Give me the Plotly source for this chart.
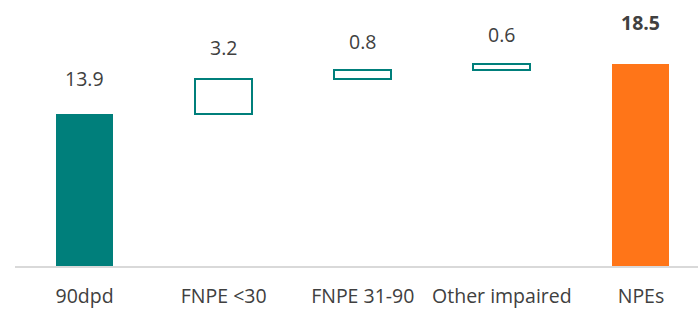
import plotly.graph_objects as go

categories = ["90dpd", "FNPE <30", "FNPE 31-90", "Other impaired", "NPEs"]
values = [13.9, 3.2, 0.8, 0.6, 18.5]
kinds = ["total", "delta", "delta", "delta", "total"]
labels = ["13.9", "3.2", "0.8", "0.6", "<b>18.5</b>"]

# presentational: pixel lift of each value label centre above its bar top
label_lift = [35.5, 31.5, 28.5, 29.5, 41.5]

TEAL = "#007F7B"
ORANGE = "#FF7518"
TEXT = "#404040"

bases, tops = [], []
running = 0.0
for v, k in zip(values, kinds):
    if k == "total":
        bases.append(0.0)
        running = v
        tops.append(v)
    else:
        bases.append(running)
        running += v
        tops.append(running)

fills, lines, lwidths = [], [], []
for i, k in enumerate(kinds):
    if k == "total":
        c = ORANGE if i == len(kinds) - 1 else TEAL
        fills.append(c)
        lines.append(c)
        lwidths.append(0)
    else:
        fills.append("white")
        lines.append(TEAL)
        lwidths.append(2)

fig = go.Figure()
fig.add_trace(go.Bar(
    x=categories,
    y=[t - b for t, b in zip(tops, bases)],
    base=bases,
    width=0.41,
    marker=dict(color=fills, line=dict(color=lines, width=lwidths)),
    hoverinfo="skip",
))

for c, t, lab, lift in zip(categories, tops, labels, label_lift):
    fig.add_annotation(x=c, y=t, text=lab, showarrow=False, yanchor="middle",
                       yshift=lift, font=dict(size=19.5, color=TEXT))

fig.update_layout(
    width=698, height=309,
    margin=dict(l=15, r=0, t=0, b=43),
    paper_bgcolor="white", plot_bgcolor="white",
    font=dict(family="Open Sans", size=20, color=TEXT),
    showlegend=False,
    bargap=0,
)
fig.update_xaxes(
    type="category", range=[-0.5, 4.41],
    showline=True, linecolor="#D9D9D9", linewidth=2,
    showgrid=False, ticks="", ticklabelstandoff=12,
    tickfont=dict(size=19.5, color=TEXT), automargin=False,
)
fig.update_yaxes(range=[0, 24.34], visible=False, showgrid=False, zeroline=False)

fig.write_html("out.html", config={"displayModeBar": False},
               post_script="document.body.style.margin='0';")
